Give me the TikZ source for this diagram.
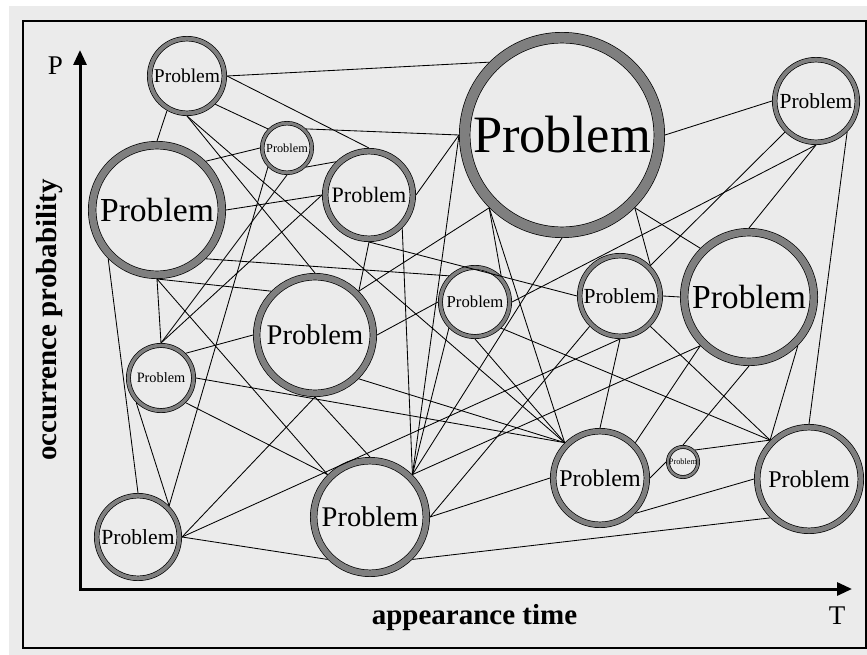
\documentclass[tikz,border=0pt]{standalone}
\usepackage{fontspec}
\setmainfont{Liberation Serif}
\usetikzlibrary{arrows.meta}
\definecolor{panel}{HTML}{EBEBEB}
\definecolor{ringgray}{HTML}{7F7F7F}
\tikzset{
  % problem bubble: #1 outer radius, #2 ring width, #3 font size
  prob/.style n args={3}{circle, inner sep=0pt,
    outer sep={#2/2+0.7},
    minimum size={2*#1-#2-1.4},
    draw=ringgray, line width={#2*1pt},
    preaction={draw=black, line width={#2*1pt+1.4pt}},
    font=\fontsize{#3}{#3}\selectfont},
  link/.style={draw=black, line width=0.85pt},
  axis/.style={line width=3pt, line join=miter,
    {Triangle[length=15pt,width=13pt]}-{Triangle[length=15pt,width=13pt]}},
  axislabel/.style={font=\fontsize{29}{29}\selectfont\bfseries},
  axisletter/.style={font=\fontsize{27}{27}\selectfont},
}
\begin{document}
\begin{tikzpicture}[x=1pt,y=-1pt]
  \useasboundingbox (0,0) rectangle (867,655);
  \fill[white] (0,0) rectangle (867,655);
  \fill[panel] (9,6) rectangle (867,655);
  \draw[line width=2pt] (23,21) rectangle (866,648);

  % axes
  \coordinate (ytip) at (80,50);
  \coordinate (orig) at (80,589);
  \coordinate (xtip) at (852,589);
  \draw[axis] (ytip) -- (orig) -- (xtip);
  \node[axisletter] (plab) at (55.5,66) {P};
  \node[axisletter] (tlab) at (837,616) {T};
  \node[axislabel] (xlab) at (474.5,618) {appearance time};
  \node[axislabel, rotate=90] (ylab) at (50,320) {occurrence probability};

  % problems
  \node[prob={40}{4}{19.5}]     (c1)  at (187,76)  {Problem};
  \node[prob={27}{3}{12.3}]     (c2)  at (287,148) {Problem};
  \node[prob={69}{7}{33.6}]     (c3)  at (157,210) {Problem};
  \node[prob={47}{5}{22}]       (c4)  at (369,195) {Problem};
  \node[prob={103}{10}{52.5}]   (c5)  at (562,135) {Problem};
  \node[prob={44}{4}{21.5}]     (c6)  at (816,101) {Problem};
  \node[prob={69}{7}{33.6}]     (c7)  at (749,297) {Problem};
  \node[prob={43}{4}{21.5}]     (c8)  at (620,296) {Problem};
  \node[prob={37}{3.5}{16.7}]   (c9)  at (475,302) {Problem};
  \node[prob={62}{6}{28.5}]     (c10) at (315,335) {Problem};
  \node[prob={35}{3.5}{14.3}]   (c11) at (161,378) {Problem};
  \node[prob={44}{4}{21.6}]     (c12) at (138,537) {Problem};
  \node[prob={60}{6}{28.5}]     (c13) at (370,517) {Problem};
  \node[prob={50}{5}{24}]       (c14) at (600,478) {Problem};
  \node[prob={17}{2.5}{8.3}]    (c15) at (683,462) {Problem};
  \node[prob={55}{5}{24}]       (c16) at (809,479) {Problem};

  % relations
  \foreach \a/\b in {
    c1.east/c5.north west, c1.east/c4.north, c1.south east/c2.north west,
    c1.south/c10.north, c1.south/c14.north west, c1.240/c3.north,
    c2.north east/c5.west, c2.south east/c4.north west, c2.west/c3.north east,
    c2.south/c11.north, c2.south west/c12.north east,
    c3.east/c4.west, c3.south east/c9.north west, c3.south/c11.north,
    c3.south/c10.north west, c3.south/c13.north west, c3.south west/c12.north,
    c4.east/c5.west, c4.south/c10.north east, c4.south/c8.west,
    c4.south east/c13.north east, c4.west/c11.north,
    c5.east/c6.west, c5.south east/c7.north west, c5.south east/c8.north east,
    c5.south/c13.north east, c5.south west/c9.north east,
    c5.south west/c14.north west, c5.south west/c10.north east,
    c5.west/c13.north east,
    c6.south west/c8.north east, c6.south/c9.east, c6.south/c7.north,
    c6.south east/c16.north,
    c7.west/c8.east, c7.south west/c13.north east, c7.south west/c14.north east,
    c7.south/c15.north, c7.south east/c16.north west,
    c8.south east/c16.north west, c8.south/c14.north, c8.south/c12.east,
    c8.south west/c13.east,
    c9.south east/c16.north west, c9.south/c14.north west,
    c9.south west/c13.north east, c9.west/c10.east,
    c10.south east/c14.north west, c10.south/c13.north, c10.south/c12.east,
    c10.west/c11.north east,
    c11.east/c14.north west, c11.south east/c13.north west,
    c11.south west/c12.north east,
    c12.east/c13.south west,
    c13.east/c14.west, c13.south east/c16.south west,
    c14.east/c15.west, c14.south east/c16.west,
    c15.north east/c16.north west}
    \draw[link] (\a) -- (\b);
\end{tikzpicture}
\end{document}
